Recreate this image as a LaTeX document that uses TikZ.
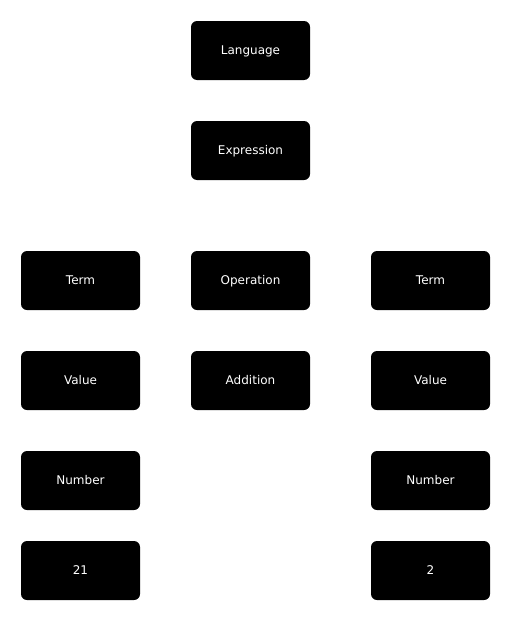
\documentclass[tikz,border=0pt]{standalone}
\usepackage{fontspec}
\setmainfont{DejaVu Sans}
\usepackage{tikz}

\tikzset{
	rule/.style={fill=black,text=white,rounded corners=6pt,
		minimum width=119pt,minimum height=59pt,inner sep=0pt,
		text height=8.8pt,text depth=0pt,
		font=\fontsize{12}{14}\selectfont}
}

\begin{document}
\begin{tikzpicture}[x=1pt,y=-1pt]
		\useasboundingbox (0,0) rectangle (511,621);

		% Top of the tree
		\node[rule] (language) at (250.5,50.5) {Language};
		\node[rule] (expression) at (250.5,150.5) {Expression};

		% Left, middle and right columns
		\node[rule] (termL) at (80.5,280.5) {Term};
		\node[rule] (operation) at (250.5,280.5) {Operation};
		\node[rule] (termR) at (430.5,280.5) {Term};

		\node[rule] (valueL) at (80.5,380.5) {Value};
		\node[rule] (addition) at (250.5,380.5) {Addition};
		\node[rule] (valueR) at (430.5,380.5) {Value};

		\node[rule] (numberL) at (80.5,480.5) {Number};
		\node[rule] (numberR) at (430.5,480.5) {Number};

		% Leaves
		\node[rule] (litL) at (80.5,570.5) {21};
		\node[rule] (litR) at (430.5,570.5) {2};
	\end{tikzpicture}
\end{document}
